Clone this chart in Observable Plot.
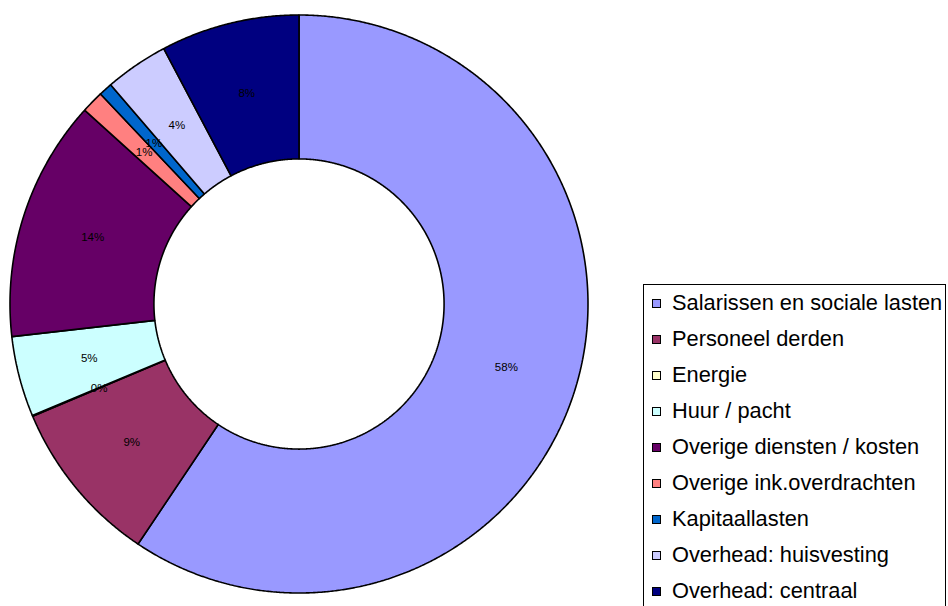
<!DOCTYPE html>
<html>
<head>
<meta charset="utf-8">
<script src="https://cdn.jsdelivr.net/npm/d3@7"></script>
<script src="https://cdn.jsdelivr.net/npm/@observablehq/plot@0.6"></script>
<style>
  html, body { margin: 0; padding: 0; background: #fff; overflow: hidden; }
  #wrap { position: relative; width: 948px; height: 606px; overflow: hidden; }
  #legend { position: absolute; left: 643px; top: 284px; width: 303px; height: 340px;
            border: 1px solid #000; background: #fff; box-sizing: border-box;
            font-family: "Liberation Sans", Arial, sans-serif; font-size: 21.8px; color: #000; }
  .row { position: absolute; left: 0; height: 36px; display: flex; align-items: center; white-space: nowrap; }
  .sw { width: 7px; height: 7px; border: 1.5px solid #000; margin-left: 8px; margin-right: 11px; flex: none; }
</style>
</head>
<body>
<div id="wrap"><div id="chart"></div><div id="legend"></div></div>
<script>
const categories = [
  "Salarissen en sociale lasten",
  "Personeel derden",
  "Energie",
  "Huur / pacht",
  "Overige diensten / kosten",
  "Overige ink.overdrachten",
  "Kapitaallasten",
  "Overhead: huisvesting",
  "Overhead: centraal"
];
const values = [59.4, 9.25, 0.05, 4.5, 13.5, 1.25, 0.75, 3.55, 7.75];
const pctLabels = ["58%", "9%", "0%", "5%", "14%", "1%", "1%", "4%", "8%"];
const colors = ["#9999FF", "#993366", "#FFFFCC", "#CCFFFF", "#660066", "#FF8080", "#0066CC", "#CCCCFF", "#000080"];

const innerRatio = 0.502;
const labelRatio = 0.75;

const arcs = d3.pie().sort(null).value(d => d)(values);
const pts = [];
const labels = [];
arcs.forEach((a, i) => {
  const name = categories[i];
  const n = Math.max(2, Math.ceil((a.endAngle - a.startAngle) / 0.005));
  const ring = [];
  for (let k = 0; k <= n; k++) {
    const t = a.startAngle + (a.endAngle - a.startAngle) * k / n;
    ring.push({name, x: Math.sin(t), y: Math.cos(t)});
  }
  for (let k = n; k >= 0; k--) {
    const t = a.startAngle + (a.endAngle - a.startAngle) * k / n;
    ring.push({name, x: innerRatio * Math.sin(t), y: innerRatio * Math.cos(t)});
  }
  ring.push({...ring[0]});
  pts.push(...ring);
  const m = (a.startAngle + a.endAngle) / 2;
  labels.push({name, text: pctLabels[i], x: labelRatio * Math.sin(m), y: labelRatio * Math.cos(m)});
});

const chart = Plot.plot({
  width: 948,
  height: 606,
  margin: 0,
  style: {fontFamily: "'Liberation Sans', Arial, sans-serif", background: "transparent"},
  x: {domain: [-1, 1], range: [9.5, 587.5], axis: null},
  y: {domain: [-1, 1], range: [592.5, 14.5], axis: null},
  color: {domain: categories, range: colors},
  marks: [
    Plot.line(pts, {x: "x", y: "y", z: "name", fill: "name", stroke: "#000", strokeWidth: 1.6, strokeLinejoin: "miter", curve: "linear"}),
    Plot.text(labels, {x: "x", y: "y", text: "text", fontSize: 11.5, fill: "#000"})
  ]
});
document.getElementById("chart").appendChild(chart);

const legend = document.getElementById("legend");
categories.forEach((c, i) => {
  const row = document.createElement("div");
  row.className = "row";
  row.style.top = (0 + i * 36.0) + "px";
  const sw = document.createElement("div");
  sw.className = "sw";
  sw.style.background = colors[i];
  const tx = document.createElement("span");
  tx.textContent = c;
  row.appendChild(sw);
  row.appendChild(tx);
  legend.appendChild(row);
});
</script>
</body>
</html>
